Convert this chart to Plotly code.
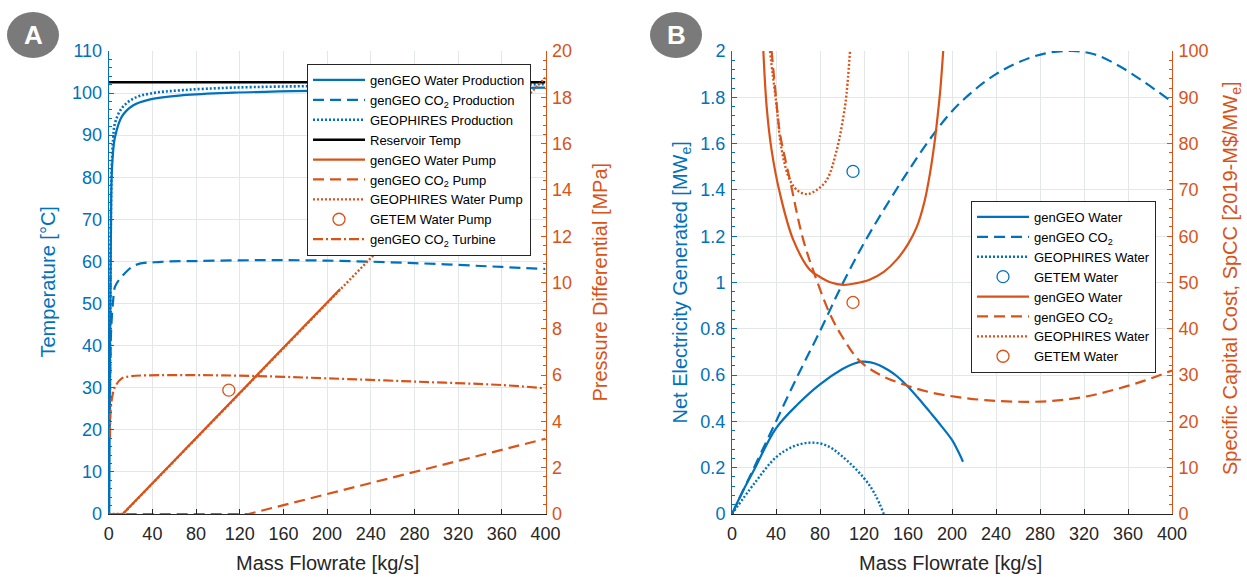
import plotly.graph_objects as go

# ---------------- data: panel A ----------------
a_water_x = [0.5, 1.2, 2.0, 2.7, 4, 5.8, 12, 22.6, 38, 68, 114, 200, 300, 400]
a_water_T = [0, 40, 65, 80, 86, 89.6, 94.4, 97.1, 98.5, 99.5, 100.1, 100.6, 101.0, 101.3]

a_co2_x = [1, 2, 2.7, 4, 5.8, 12, 24, 48, 80, 140, 200, 280, 360, 400]
a_co2_T = [25, 42, 46, 50.5, 54, 56.4, 59.1, 59.9, 60.1, 60.3, 60.2, 59.6, 58.7, 58.2]

a_geo_x = [1, 2, 2.7, 4, 5.8, 12, 22.6, 38, 68, 114, 200, 300, 400]
a_geo_T = [20, 70, 82, 89, 92.9, 96.4, 98.7, 99.9, 100.7, 101.3, 101.7, 101.9, 102.1]

a_res_x = [0, 400]
a_res_T = [102.6, 102.6]

a_wpump_x = [0, 12.8, 212]
a_wpump_p = [0, 0, 9.72]

a_co2pump_x = [0, 128, 400]
a_co2pump_p = [0, 0, 3.25]

a_geopump_x = [0, 13, 400]
a_geopump_p = [0, 0, 18.85]

a_getem_x = [110]
a_getem_p = [5.35]

a_turb_x = [1.2, 1.5, 3, 5.8, 12, 20, 35.6, 80, 135, 200, 280, 360, 400]
a_turb_p = [3.3, 4.2, 5.0, 5.49, 5.86, 5.95, 5.99, 6.0, 5.96, 5.86, 5.72, 5.57, 5.43]

# ---------------- data: panel B ----------------
b_water_x = [0, 10, 20, 40, 60, 80, 100, 110, 118, 126, 134, 142, 150, 160, 170, 180, 190, 200, 205, 210]
b_water_P = [0, 0.1, 0.19, 0.37, 0.475, 0.56, 0.625, 0.648, 0.658, 0.655, 0.643, 0.622, 0.595, 0.55, 0.497, 0.44, 0.382, 0.32, 0.276, 0.226]

b_co2_x = [0, 20, 40, 60, 80, 100, 120, 140, 160, 180, 200, 220, 240, 260, 285, 309, 330, 352, 375, 400]
b_co2_P = [0, 0.2, 0.4, 0.6, 0.79, 0.99, 1.17, 1.33, 1.48, 1.62, 1.74, 1.83, 1.9, 1.95, 1.99, 2.0, 1.985, 1.935, 1.865, 1.78]

b_geo_x = [0, 20, 40, 55, 70, 85, 100, 120, 130, 138]
b_geo_P = [0, 0.13, 0.245, 0.29, 0.308, 0.298, 0.25, 0.155, 0.085, 0]

b_getem_x = [110]
b_getem_P = [1.48]

b_water_cx = [28.5, 31.5, 36, 43.6, 55.7, 70.9, 80, 90, 101, 112, 125, 138, 150, 160, 168, 175, 180, 184, 186.5, 189.5, 192]
b_water_c = [100, 88, 78.6, 69.2, 59.2, 52.7, 51.2, 50.0, 49.5, 49.8, 50.6, 52.3, 55, 58.3, 62, 67.5, 73.6, 80, 85, 92, 100]

b_co2_cx = [36, 40, 43.6, 52.7, 64.8, 77, 89, 99.4, 115.5, 135, 157, 180, 204, 230, 258, 290, 320, 347, 375, 400]
b_co2_c = [100, 90, 82.2, 72.1, 59.2, 50.5, 43.2, 38.6, 33.2, 30, 27.9, 26.3, 25.3, 24.6, 24.25, 24.4, 25.3, 26.8, 28.8, 31]

b_geo_cx = [34.5, 37, 40.6, 45.2, 52.7, 60, 68.5, 77, 86, 95.2, 102.7, 105, 107.3]
b_geo_c = [100, 95, 88, 78.6, 72.1, 69.8, 69.1, 70, 72.1, 78.6, 88, 93, 100]

b_getem_cx = [110]
b_getem_c = [45.7]

# ---------------- styling ----------------
W, H = 1247, 577
BLUE = "#0072BD"
ORANGE = "#D95319"
DARK = "#262626"
GRID = "#e4e7ea"
FONT = "Liberation Sans, Arial, Helvetica, sans-serif"
LW = 2.2
DASH = "11px,6px"
DOT = "2px,2px"
DASHDOT = "10px,3px,2px,3px"


def px(x):
    return x / W


def py(y):
    return 1 - y / H


fig = go.Figure()


def line(x, y, name, color, dash, xa, ya, legend, width=LW, smooth=True):
    fig.add_trace(go.Scatter(
        x=x, y=y, name=name, mode="lines", xaxis=xa, yaxis=ya, legend=legend,
        line=dict(color=color, width=width, dash=dash,
                  shape="spline" if smooth else "linear", smoothing=1.0),
    ))


def circ(x, y, name, color, xa, ya, legend):
    fig.add_trace(go.Scatter(
        x=x, y=y, name=name, mode="markers", xaxis=xa, yaxis=ya, legend=legend,
        marker=dict(symbol="circle-open", size=12, color=color, line=dict(width=1.3, color=color)),
    ))


CO2 = "CO<sub>2</sub>"

# Panel A
line(a_water_x, a_water_T, "genGEO Water Production", BLUE, "solid", "x", "y", "legend")
line(a_co2_x, a_co2_T, f"genGEO {CO2} Production", BLUE, DASH, "x", "y", "legend")
line(a_geo_x, a_geo_T, "GEOPHIRES Production", BLUE, DOT, "x", "y", "legend", width=2.6)
line(a_res_x, a_res_T, "Reservoir Temp", "black", "solid", "x", "y", "legend", width=2.5, smooth=False)
line(a_wpump_x, a_wpump_p, "genGEO Water Pump", ORANGE, "solid", "x", "y2", "legend", smooth=False)
line(a_co2pump_x, a_co2pump_p, f"genGEO {CO2} Pump", ORANGE, DASH, "x", "y2", "legend", smooth=False)
line(a_geopump_x, a_geopump_p, "GEOPHIRES Water Pump", ORANGE, DOT, "x", "y2", "legend", width=2.4, smooth=False)
circ(a_getem_x, a_getem_p, "GETEM Water Pump", ORANGE, "x", "y2", "legend")
line(a_turb_x, a_turb_p, f"genGEO {CO2} Turbine", ORANGE, DASHDOT, "x", "y2", "legend")

# Panel B
line(b_water_x, b_water_P, "genGEO Water", BLUE, "solid", "x2", "y3", "legend2")
line(b_co2_x, b_co2_P, f"genGEO {CO2}", BLUE, DASH, "x2", "y3", "legend2")
line(b_geo_x, b_geo_P, "GEOPHIRES Water", BLUE, DOT, "x2", "y3", "legend2", width=2.4)
circ(b_getem_x, b_getem_P, "GETEM Water", BLUE, "x2", "y3", "legend2")
line(b_water_cx, b_water_c, "genGEO Water", ORANGE, "solid", "x2", "y4", "legend2")
line(b_co2_cx, b_co2_c, f"genGEO {CO2}", ORANGE, DASH, "x2", "y4", "legend2")
line(b_geo_cx, b_geo_c, "GEOPHIRES Water", ORANGE, DOT, "x2", "y4", "legend2", width=2.4)
circ(b_getem_cx, b_getem_c, "GETEM Water", ORANGE, "x2", "y4", "legend2")

YDOM = [py(514), py(51)]


def xax(domain, anchor):
    return dict(domain=domain, anchor=anchor, range=[0, 400], tick0=0, dtick=40,
                automargin=False,
                showgrid=True, gridcolor=GRID, gridwidth=1, zeroline=False,
                showline=True, linecolor=DARK, linewidth=1,
                ticks="inside", ticklen=5, tickcolor=DARK, ticklabelstandoff=3,
                tickfont=dict(family=FONT, size=18, color=DARK))


def yax(color, rng, dtick, minor, anchor, grid, side="left", overlaying=None):
    d = dict(anchor=anchor, range=rng, dtick=dtick, tick0=0, side=side,
             automargin=False,
             showgrid=grid, gridcolor=GRID, gridwidth=1, zeroline=False,
             showline=True, linecolor=color, linewidth=1,
             ticks="inside", ticklen=5, tickcolor=color, ticklabelstandoff=2,
             minor=dict(dtick=minor, ticks="inside", ticklen=3, tickcolor=color, showgrid=False),
             tickfont=dict(family=FONT, size=18, color=color))
    if overlaying:
        d["overlaying"] = overlaying
    else:
        d["domain"] = YDOM
    return d


LEGFONT = dict(family=FONT, size=13, color="black")

fig.update_layout(
    width=W, height=H,
    autosize=False,
    margin=dict(l=0, r=0, t=0, b=0, pad=0, autoexpand=False),
    paper_bgcolor="white", plot_bgcolor="white",
    font=dict(family=FONT, size=13, color="black"),
    xaxis=xax([px(108.7), px(545.5)], "y"),
    yaxis=yax(BLUE, [0, 110], 10, 2, "x", True),
    yaxis2=yax(ORANGE, [0, 20], 2, 0.4, "x", False, side="right", overlaying="y"),
    xaxis2=xax([px(732), px(1172)], "y3"),
    yaxis3=yax(BLUE, [0, 2], 0.2, 0.04, "x2", True),
    yaxis4=yax(ORANGE, [0, 100], 10, 2, "x2", False, side="right", overlaying="y3"),
    legend=dict(x=px(531), xanchor="right", y=py(64), yanchor="top", itemwidth=52,
                bgcolor="white", bordercolor=DARK, borderwidth=1,
                font=LEGFONT, traceorder="normal"),
    legend2=dict(x=px(1156), xanchor="right", y=py(201), yanchor="top", itemwidth=52,
                 bgcolor="white", bordercolor=DARK, borderwidth=1,
                 font=LEGFONT, traceorder="normal"),
    showlegend=True,
)


# axis titles
def title(text, x, y, color, angle):
    fig.add_annotation(text=text, x=px(x), y=py(y), xref="paper", yref="paper",
                       showarrow=False, textangle=angle, xanchor="center", yanchor="middle",
                       font=dict(family=FONT, size=20, color=color))


title("Temperature [°C]", 47, 282.5, BLUE, -90)
title("Pressure Differential [MPa]", 599, 282.5, ORANGE, -90)
title("Mass Flowrate [kg/s]", 327, 563, DARK, 0)
title("Net Electricity Generated [MW<sub>e</sub>]", 681, 282.5, BLUE, -90)
title("Specific Capital Cost, SpCC [2019-M$/MW<sub>e</sub>]", 1232, 278, ORANGE, -90)
title("Mass Flowrate [kg/s]", 950, 563, DARK, 0)

# panel badges
for label, cx in (("A", 33), ("B", 676)):
    cy = 35
    fig.add_shape(type="circle", xref="paper", yref="paper",
                  x0=px(cx - 26), x1=px(cx + 26), y0=py(cy + 23), y1=py(cy - 23),
                  fillcolor="#7a7a7a", line=dict(width=0))
    fig.add_annotation(text=f"<b>{label}</b>", x=px(cx), y=py(cy), xref="paper", yref="paper",
                       showarrow=False, xanchor="center", yanchor="middle",
                       font=dict(family=FONT, size=26, color="white"))

fig.write_html("out.html",
               post_script="document.body.style.margin='0px';document.body.style.overflow='hidden';")
